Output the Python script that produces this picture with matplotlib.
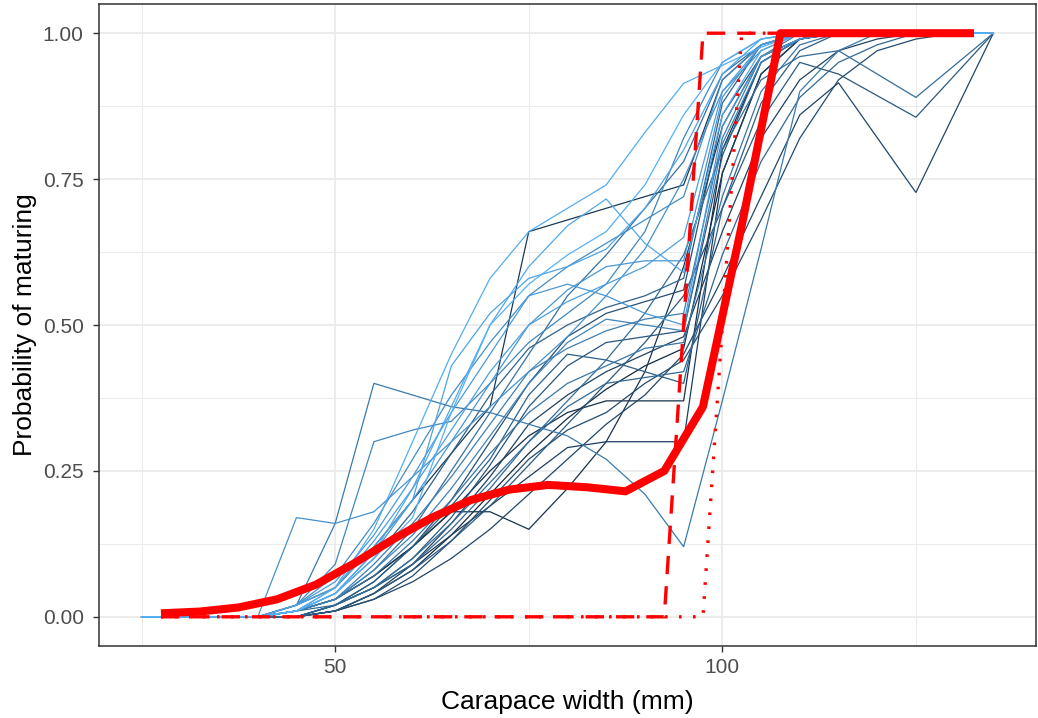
import matplotlib
matplotlib.use("Agg")
import matplotlib.pyplot as plt
from matplotlib.colors import LinearSegmentedColormap
import numpy as np

# Size classes (mm) for the yearly maturity curves
width_bins = [25, 30, 35, 40, 45, 50, 55, 60, 65, 70, 75, 80, 85, 90, 95,
              100, 105, 110, 115, 120, 125, 130, 135]

# Survey year for each yearly curve (drives the line colour)
series_year = [1990, 1991, 2005, 2010, 2008, 2016, 2015, 1989, 1992, 2000,
               1996, 2003, 2012, 1994, 1998, 2002, 1993, 2017, 2014, 2006,
               1997, 2011, 1999, 2004, 1995, 2013, 2001, 2007, 1988, 2009]

# Proportion maturing per size class, one list per year (None = no sample)
p_mature = [
    [0, 0, 0, 0, 0.01, 0.03, 0.07, 0.12, 0.18, 0.18, 0.15, 0.22, 0.30, 0.42, 0.60, 0.84, 0.96, 0.99, 1, 1, 1, 1, 1],
    [0, 0, 0, 0, 0.02, 0.05, 0.12, 0.20, 0.28, 0.36, 0.66, 0.68, 0.70, 0.72, 0.74, 0.92, 0.98, 1, 1, 1, 1, 1, 1],
    [0, 0, 0, 0, 0.02, 0.16, 0.40, 0.38, 0.36, 0.35, 0.33, 0.31, 0.27, 0.21, 0.12, 0.37, 0.63, 0.90, 0.97, 1, 1, 1, 1],
    [0, 0, 0, 0, 0.17, 0.16, 0.18, 0.24, 0.30, 0.36, 0.42, 0.48, 0.55, 0.63, 0.75, 0.90, 0.97, 1, 1, 1, 1, 1, 1],
    [0, 0, 0, 0, 0.02, 0.09, 0.30, 0.32, 0.335, 0.40, 0.47, 0.52, 0.57, 0.66, 0.82, 0.95, 0.99, 1, 1, 1, 1, 1, 1],
    [0, 0, 0, 0, 0.01, 0.05, 0.15, 0.30, 0.45, 0.58, 0.66, 0.70, 0.74, 0.83, 0.914, 0.945, 0.976, 1, 1, 1, 1, 1, 1],
    [0, 0, 0, 0, 0.01, 0.04, 0.11, 0.22, 0.36, 0.50, 0.60, 0.67, 0.716, 0.64, 0.59, 0.86, 0.97, 1, 1, 1, 1, 1, 1],
    [0, 0, 0, 0, 0.01, 0.03, 0.07, 0.12, 0.18, 0.25, 0.31, 0.35, 0.37, 0.37, 0.37, 0.80, 0.95, 0.99, 1, 1, 1, 1, 1],
    [0, 0, 0, 0, 0, 0.02, 0.05, 0.09, 0.14, 0.19, 0.24, 0.29, 0.30, 0.30, 0.30, 0.76, 0.93, 0.99, 1, 1, 1, 1, 1],
    [0, 0, 0, 0, 0.01, 0.04, 0.10, 0.18, 0.28, 0.38, 0.46, 0.50, 0.53, 0.55, 0.58, 0.88, 0.98, 1, 1, 1, 1, 1, 1],
    [0, 0, 0, 0, 0, 0.02, 0.06, 0.12, 0.20, 0.30, 0.40, 0.48, 0.52, 0.54, 0.56, 0.86, 0.96, 0.99, 1, 1, 1, 1, 1],
    [0, 0, 0, 0, 0.01, 0.03, 0.08, 0.15, 0.25, 0.35, 0.45, 0.55, 0.62, 0.70, 0.78, 0.93, 0.98, 1, 1, 1, 1, 1, 1],
    [0, 0, 0, 0, 0.02, 0.06, 0.14, 0.24, 0.35, 0.45, 0.55, 0.57, 0.55, 0.52, 0.50, 0.84, 0.96, 0.99, 1, 1, 1, 1, 1],
    [0, 0, 0, 0, 0, 0.01, 0.03, 0.06, 0.10, 0.15, 0.21, 0.27, 0.33, 0.38, 0.45, 0.58, 0.72, 0.86, 0.915, None, 0.727, None, 1],
    [0, 0, 0, 0, 0, 0.01, 0.04, 0.08, 0.13, 0.19, 0.26, 0.33, 0.40, 0.47, 0.55, 0.70, 0.85, 0.95, 0.93, None, 0.856, None, 1],
    [0, 0, 0, 0, 0.01, 0.02, 0.05, 0.10, 0.16, 0.23, 0.30, 0.37, 0.44, 0.52, 0.62, 0.80, 0.92, 0.96, 0.97, None, 0.89, None, 1],
    [0, 0, 0, 0, 0, 0.01, 0.04, 0.09, 0.16, 0.24, 0.33, 0.38, 0.42, 0.45, 0.48, 0.66, 0.82, 0.92, 0.97, 0.99, 1, 1, 1],
    [0, 0, 0, 0, 0.01, 0.04, 0.10, 0.17, 0.35, 0.50, 0.57, 0.62, 0.66, 0.74, 0.86, 0.95, 0.99, 1, 1, 1, 1, 1, 1],
    [0, 0, 0, 0, 0.02, 0.05, 0.12, 0.20, 0.43, 0.52, 0.58, 0.60, 0.63, 0.70, 0.80, 0.93, 0.99, 1, 1, 1, 1, 1, 1],
    [0, 0, 0, 0, 0.01, 0.03, 0.09, 0.16, 0.24, 0.33, 0.42, 0.46, 0.49, 0.51, 0.52, 0.82, 0.96, 1, 1, 1, 1, 1, 1],
    [0, 0, 0, 0, 0, 0.02, 0.05, 0.10, 0.17, 0.26, 0.36, 0.43, 0.47, 0.48, 0.49, 0.79, 0.95, 0.99, 1, 1, 1, 1, 1],
    [0, 0, 0, 0, 0.01, 0.04, 0.11, 0.20, 0.30, 0.40, 0.50, 0.56, 0.60, 0.61, 0.61, 0.89, 0.98, 1, 1, 1, 1, 1, 1],
    [0, 0, 0, 0, 0, 0.02, 0.06, 0.12, 0.19, 0.27, 0.38, 0.45, 0.44, 0.42, 0.40, 0.70, 0.88, 0.97, 1, 1, 1, 1, 1],
    [0, 0, 0, 0, 0.01, 0.03, 0.07, 0.13, 0.20, 0.28, 0.35, 0.40, 0.43, 0.46, 0.47, 0.72, 0.90, 0.98, 1, 1, 1, 1, 1],
    [0, 0, 0, 0, 0, 0.01, 0.03, 0.07, 0.13, 0.20, 0.27, 0.32, 0.35, 0.40, 0.44, 0.55, 0.68, 0.82, 0.92, 0.97, 0.99, 1, 1],
    [0, 0, 0, 0, 0.01, 0.05, 0.13, 0.22, 0.32, 0.42, 0.50, 0.54, 0.57, 0.60, 0.65, 0.90, 0.98, 1, 1, 1, 1, 1, 1],
    [0, 0, 0, 0, 0, 0.02, 0.05, 0.09, 0.15, 0.22, 0.30, 0.36, 0.40, 0.41, 0.42, 0.62, 0.78, 0.89, 0.95, 0.98, 1, 1, 1],
    [0, 0, 0, 0, 0.01, 0.03, 0.08, 0.14, 0.22, 0.31, 0.40, 0.47, 0.51, 0.50, 0.49, 0.81, 0.95, 0.99, 1, 1, 1, 1, 1],
    [0, 0, 0, 0, 0, 0.01, 0.04, 0.08, 0.14, 0.21, 0.28, 0.34, 0.39, 0.43, 0.46, 0.76, 0.93, 0.99, 1, 1, 1, 1, 1],
    [0, 0, 0, 0, 0.02, 0.07, 0.16, 0.27, 0.38, 0.47, 0.55, 0.60, 0.64, 0.68, 0.72, 0.92, 0.98, 1, 1, 1, 1, 1, 1],
]

# Mid-points of the 5 mm classes for the pooled curves
mid_bins = [27.5, 32.5, 37.5, 42.5, 47.5, 52.5, 57.5, 62.5, 67.5, 72.5, 77.5,
            82.5, 87.5, 92.5, 97.5, 102.5, 107.5, 112.5, 117.5, 122.5, 127.5, 132.5]

# Pooled probability of maturing (all years)
p_pooled = [0.006, 0.009, 0.016, 0.030, 0.055, 0.092, 0.133, 0.170, 0.200, 0.218,
            0.226, 0.222, 0.215, 0.250, 0.360, 0.670, 1.0, 1.0, 1.0, 1.0, 1.0, 1.0]

# Knife-edge maturity schedules
p_knife_early = [0, 0, 0, 0, 0, 0, 0, 0, 0, 0, 0, 0, 0, 0, 1, 1, 1, 1, 1, 1, 1, 1]
p_knife_late = [0, 0, 0, 0, 0, 0, 0, 0, 0, 0, 0, 0, 0, 0, 0, 1, 1, 1, 1, 1, 1, 1]

plt.rcParams["font.family"] = ["Liberation Sans", "DejaVu Sans"]

fig = plt.figure(figsize=(10.38, 7.18), dpi=100)
ax = fig.add_axes([0.0954, 0.1003, 0.9026, 0.8941])

cmap = LinearSegmentedColormap.from_list("ggblue", ["#132B43", "#56B1F7"])
ymin, ymax = min(series_year), max(series_year)
order = np.argsort(series_year)
for i in order:
    xs = [x for x, v in zip(width_bins, p_mature[i]) if v is not None]
    ys = [v for v in p_mature[i] if v is not None]
    c = cmap((series_year[i] - ymin) / (ymax - ymin))
    ax.plot(xs, ys, color=c, lw=0.9, solid_joinstyle="miter", zorder=3)

ax.plot(mid_bins, p_knife_early, color="#FF0000", lw=2.4, dashes=(5.5, 3.6), zorder=4)
ax.plot(mid_bins, p_knife_late, color="#FF0000", lw=2.4, dashes=(0.8, 3.4),
        dash_capstyle="butt", zorder=4)
ax.plot(mid_bins, p_pooled, color="#FF0000", lw=5.8, solid_joinstyle="round",
        solid_capstyle="butt", zorder=5)

# theme_bw-like styling
ax.set_xlim(19.5, 140.5)
ax.set_ylim(-0.05, 1.05)
ax.set_xticks([50, 100])
ax.set_xticks([25, 75, 125], minor=True)
ax.set_yticks([0, 0.25, 0.5, 0.75, 1.0])
ax.set_yticks([0.125, 0.375, 0.625, 0.875], minor=True)
ax.set_yticklabels(["0.00", "0.25", "0.50", "0.75", "1.00"])
ax.grid(which="major", color="#EBEBEB", lw=1.3, zorder=0)
ax.grid(which="minor", color="#EBEBEB", lw=0.7, zorder=0)
ax.set_axisbelow(True)
for s in ax.spines.values():
    s.set_color("#333333")
    s.set_linewidth(1.1)
ax.tick_params(which="major", length=4, width=1.0, color="#333333",
               labelcolor="#4D4D4D", labelsize=15, pad=5)
ax.tick_params(axis="y", which="major", pad=7)
ax.tick_params(which="minor", length=0)
ax.set_xlabel("Carapace width (mm)", fontsize=19, color="black", labelpad=9)
ax.set_ylabel("Probability of maturing", fontsize=19, color="black", labelpad=4)

fig.savefig("out.png", dpi=100)
